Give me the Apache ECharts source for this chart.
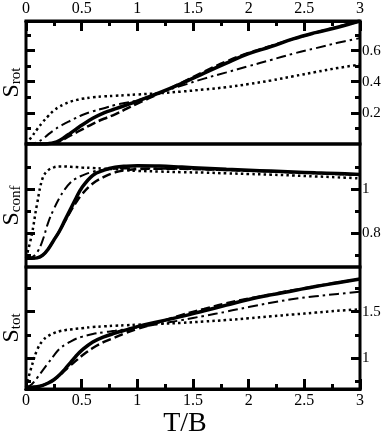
<!DOCTYPE html>
<html>
<head>
<meta charset="utf-8">
<script src="https://cdn.jsdelivr.net/npm/echarts@6/dist/echarts.min.js"></script>
<style>
  html, body { margin: 0; padding: 0; background: #fff; }
  #chart { width: 382px; height: 436px; }
</style>
</head>
<body>
<div id="chart"></div>
<script>
// T/B sample points shared by every curve
var T = [0, 0.05, 0.1, 0.15, 0.2, 0.25, 0.3, 0.35, 0.4, 0.45, 0.5, 0.6, 0.7, 0.8, 0.9, 1.0,
         1.2, 1.4, 1.6, 1.8, 2.0, 2.2, 2.4, 2.6, 2.8, 3.0];

// S_rot
var rotSolid   = [0, 0, 0, 0, 0.002, 0.008, 0.022, 0.045, 0.07, 0.095, 0.12, 0.165, 0.2, 0.225, 0.25, 0.275,
                  0.33, 0.39, 0.455, 0.52, 0.58, 0.625, 0.675, 0.715, 0.75, 0.79];
var rotDashed  = [0, 0, 0, 0, 0.002, 0.007, 0.017, 0.035, 0.055, 0.073, 0.092, 0.13, 0.162, 0.19, 0.225, 0.26,
                  0.325, 0.395, 0.465, 0.53, 0.585, 0.63, 0.675, 0.715, 0.752, 0.79];
var rotDashDot = [0, 0.003, 0.012, 0.032, 0.062, 0.088, 0.112, 0.132, 0.15, 0.168, 0.185, 0.21, 0.23, 0.25, 0.265, 0.28,
                  0.33, 0.375, 0.42, 0.46, 0.5, 0.54, 0.58, 0.615, 0.65, 0.68];
var rotDotted  = [0, 0.045, 0.095, 0.14, 0.18, 0.215, 0.24, 0.258, 0.272, 0.282, 0.29, 0.3, 0.306, 0.31, 0.314, 0.318,
                  0.326, 0.337, 0.35, 0.365, 0.385, 0.408, 0.435, 0.462, 0.488, 0.51];

// S_conf
var confSolid   = [0.688, 0.688, 0.69, 0.702, 0.73, 0.77, 0.81, 0.86, 0.91, 0.96, 1.005, 1.062, 1.085, 1.098, 1.103, 1.105,
                   1.104, 1.099, 1.094, 1.089, 1.085, 1.081, 1.077, 1.073, 1.07, 1.066];
var confDashed  = [0.688, 0.688, 0.69, 0.702, 0.73, 0.77, 0.81, 0.855, 0.9, 0.94, 0.975, 1.025, 1.055, 1.075, 1.085, 1.09,
                   1.092, 1.091, 1.089, 1.086, 1.083, 1.08, 1.076, 1.072, 1.068, 1.065];
var confDashDot = [0.688, 0.692, 0.715, 0.77, 0.85, 0.91, 0.96, 1.0, 1.03, 1.048, 1.06, 1.078, 1.087, 1.091, 1.093, 1.093,
                   1.092, 1.091, 1.088, 1.085, 1.082, 1.079, 1.075, 1.071, 1.067, 1.064];
var confDotted  = [0.69, 0.79, 0.935, 1.05, 1.085, 1.098, 1.102, 1.102, 1.1, 1.099, 1.097, 1.095, 1.092, 1.089, 1.085, 1.082,
                   1.079, 1.076, 1.074, 1.071, 1.068, 1.065, 1.061, 1.057, 1.053, 1.048];

// S_tot
var totSolid   = [0.69, 0.69, 0.695, 0.71, 0.735, 0.77, 0.82, 0.885, 0.955, 1.025, 1.085, 1.175, 1.23, 1.27, 1.305, 1.34,
                  1.395, 1.45, 1.51, 1.57, 1.63, 1.68, 1.725, 1.77, 1.81, 1.85];
var totDashed  = [0.69, 0.69, 0.695, 0.71, 0.735, 0.77, 0.815, 0.87, 0.925, 0.975, 1.025, 1.11, 1.175, 1.225, 1.275, 1.315,
                  1.39, 1.465, 1.53, 1.59, 1.64, 1.685, 1.73, 1.772, 1.812, 1.85];
var totDashDot = [0.69, 0.72, 0.79, 0.87, 0.95, 1.03, 1.1, 1.145, 1.18, 1.21, 1.23, 1.26, 1.28, 1.295, 1.312, 1.33,
                  1.37, 1.41, 1.455, 1.5, 1.55, 1.595, 1.635, 1.665, 1.69, 1.715];
var totDotted  = [0.693, 0.91, 1.09, 1.19, 1.24, 1.27, 1.29, 1.302, 1.31, 1.317, 1.323, 1.335, 1.343, 1.35, 1.355, 1.36,
                  1.37, 1.38, 1.395, 1.41, 1.43, 1.45, 1.47, 1.49, 1.51, 1.525];

// x ticks
var xMajor = [0, 0.5, 1, 1.5, 2, 2.5, 3];
var xMinor = [0.25, 0.75, 1.25, 1.75, 2.25, 2.75];

// y ranges and tick values per panel
var rotRange = [0, 0.79],      rotMajor = [0.2, 0.4, 0.6],  rotMinor = [0.1, 0.3, 0.5, 0.7];
var confRange = [0.649, 1.203], confMajor = [0.8, 1.0],     confMinor = [0.7, 0.9, 1.1];
var totRange = [0.671, 1.979], totMajor = [1.0, 1.5],       totMinor = [0.75, 1.25, 1.75];

var FONT = 'Liberation Serif';
var BLACK = '#000';

var myChart = echarts.init(document.getElementById('chart'));

function pairs(ys) {
    return T.map(function (t, i) { return [t, ys[i]]; });
}

function tick(len, values) {
    return { show: true, inside: true, length: len, customValues: values, lineStyle: { color: BLACK, width: 3 } };
}

function merge(a, extra) {
    for (var k in extra) a[k] = extra[k];
    return a;
}

function yAxes(grid, range, major, minor, name, sub) {
    function base(extra) {
        return merge({
            gridIndex: grid, type: 'value', min: range[0], max: range[1],
            splitLine: { show: false },
            axisLine: { show: false, onZero: false },
            axisLabel: { show: false }
        }, extra);
    }
    return [
        base({
            position: 'left',
            name: '{s|' + name + '}{b|' + sub + '}',
            nameLocation: 'middle', nameRotate: 90, nameGap: 2,
            nameTextStyle: {
                color: BLACK, fontFamily: FONT,
                rich: {
                    s: { fontSize: 24, fontFamily: FONT, color: BLACK },
                    b: { fontSize: 15, fontFamily: FONT, color: BLACK, padding: [9, 0, 0, 0] }
                }
            },
            axisTick: tick(9, major)
        }),
        base({ position: 'left', axisTick: tick(5, minor) }),
        base({
            position: 'right',
            axisTick: tick(9, major),
            axisLabel: { show: true, customValues: major, margin: 2, fontSize: 15, fontFamily: FONT, color: BLACK }
        }),
        base({ position: 'right', axisTick: tick(5, minor) })
    ];
}

function xAxes(grid, position, labelled, extra) {
    function base(more) {
        return merge({
            gridIndex: grid, type: 'value', min: 0, max: 3, position: position,
            splitLine: { show: false },
            // the line has to be on for inside ticks to be drawn; it sits on the grid border
            axisLine: { show: true, onZero: false, lineStyle: { color: BLACK, width: 3 } },
            axisLabel: { show: false }
        }, more);
    }
    if (!labelled) return [base({ show: false }), base({ show: false })];
    return [
        base(merge({
            axisTick: tick(10, xMajor),
            axisLabel: { show: true, customValues: xMajor, margin: 4, fontSize: 16, fontFamily: FONT, color: BLACK }
        }, extra)),
        base({ axisTick: tick(5, xMinor) })
    ];
}

var styles = [
    { type: 'solid', width: 3.5 },
    { type: [9, 4], width: 2.5 },
    { type: [10, 4, 2.5, 4], width: 2 },
    { type: [2.5, 3.2], width: 2.5 }
];

function panelSeries(grid, list) {
    return list.map(function (ys, i) {
        return {
            type: 'line', xAxisIndex: grid * 2, yAxisIndex: grid * 4,
            data: pairs(ys), showSymbol: false, smooth: 0.4,
            lineStyle: { color: BLACK, type: styles[i].type, width: styles[i].width },
            z: 10 - i
        };
    });
}

function grid(top, height) {
    return {
        show: true, left: 26, right: 22, top: top, height: height,
        outerBoundsMode: 'none', containLabel: false,
        borderColor: BLACK, borderWidth: 3, backgroundColor: 'transparent'
    };
}

option = {
    animation: false,
    backgroundColor: '#fff',
    grid: [grid(21, 123), grid(144, 123), grid(267, 122)],
    xAxis: [].concat(
        xAxes(0, 'top', true, {}),
        xAxes(1, 'bottom', false, {}),
        xAxes(2, 'bottom', true, {
            name: 'T/B', nameLocation: 'middle', nameGap: 13,
            nameTextStyle: { fontSize: 28, fontFamily: FONT, color: BLACK, padding: [0, 16, 0, 0] }
        })
    ),
    yAxis: [].concat(
        yAxes(0, rotRange, rotMajor, rotMinor, 'S', 'rot'),
        yAxes(1, confRange, confMajor, confMinor, 'S', 'conf'),
        yAxes(2, totRange, totMajor, totMinor, 'S', 'tot')
    ),
    series: [].concat(
        panelSeries(0, [rotSolid, rotDashed, rotDashDot, rotDotted]),
        panelSeries(1, [confSolid, confDashed, confDashDot, confDotted]),
        panelSeries(2, [totSolid, totDashed, totDashDot, totDotted])
    )
};
myChart.setOption(option);
</script>
</body>
</html>
